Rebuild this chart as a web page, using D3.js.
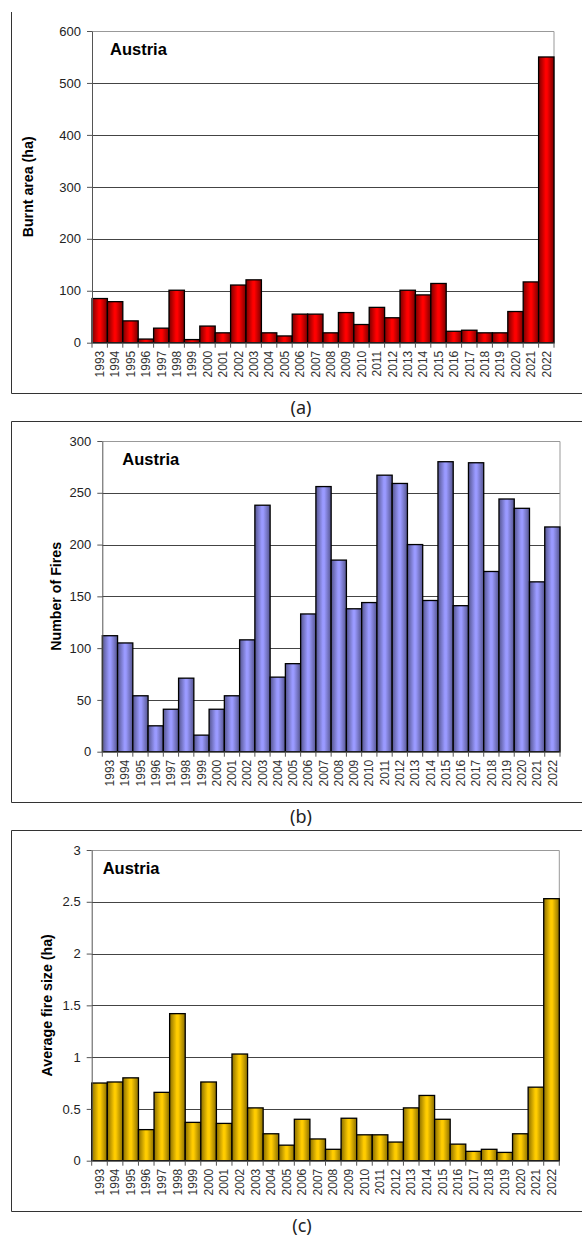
<!DOCTYPE html>
<html>
<head>
<meta charset="utf-8">
<script src="https://cdn.jsdelivr.net/npm/d3@7/dist/d3.min.js"></script>
<style>
  html, body { margin: 0; padding: 0; background: #fff; }
  svg { display: block; }
</style>
</head>
<body>
<svg id="chart" width="582" height="1236"></svg>
<script>
// ---- Data ----
const years = [1993,1994,1995,1996,1997,1998,1999,2000,2001,2002,2003,2004,2005,2006,2007,
               2008,2009,2010,2011,2012,2013,2014,2015,2016,2017,2018,2019,2020,2021,2022];
const burntArea = [85,79,42,7,28,101,6,32,19,111,121,19,13,55,55,
                   19,58,35,68,48,101,92,114,22,24,19,19,60,117,550];
const numberOfFires = [112,105,54,25,41,71,16,41,54,108,238,72,85,133,256,
                       185,138,144,267,259,200,146,280,141,279,174,244,235,164,217];
const avgFireSize = [0.75,0.76,0.80,0.30,0.66,1.42,0.37,0.76,0.36,1.03,0.51,0.26,0.15,0.40,0.21,
                     0.11,0.41,0.25,0.25,0.18,0.51,0.63,0.40,0.16,0.09,0.11,0.08,0.26,0.71,2.53];
const ticksA = [0,100,200,300,400,500,600];
const ticksB = [0,50,100,150,200,250,300];
const ticksC = [0,0.5,1,1.5,2,2.5,3];
const countryLabel = "Austria";
const captions = ["(a)", "(b)", "(c)"];
const titles = ["Burnt area (ha)", "Number of Fires", "Average fire size (ha)"];

const svg = d3.select("#chart");
const defs = svg.append("defs");

function gradient(id, edge, mid) {
  const g = defs.append("linearGradient").attr("id", id)
    .attr("x1", "0").attr("x2", "1").attr("y1", "0").attr("y2", "0");
  g.append("stop").attr("offset", "0%").attr("stop-color", edge);
  g.append("stop").attr("offset", "45%").attr("stop-color", mid);
  g.append("stop").attr("offset", "55%").attr("stop-color", mid);
  g.append("stop").attr("offset", "100%").attr("stop-color", edge);
}
gradient("gRed", "#7a0000", "#ff0000");
gradient("gBlue", "#55558f", "#9a9aff");
gradient("gGold", "#8a6e00", "#ffcc00");

// Frames
const frameColor = "#333";
svg.append("line").attr("x1", 11.5).attr("x2", 11.5).attr("y1", 12).attr("y2", 393.5)
  .attr("stroke", frameColor);
svg.append("line").attr("x1", 11.5).attr("x2", 582).attr("y1", 393.5).attr("y2", 393.5)
  .attr("stroke", frameColor);
[[421.5, 802.5], [830.5, 1211.5]].forEach(([t, b]) => {
  svg.append("path").attr("d", `M582,${t}H11.5V${b}H582`)
    .attr("fill", "none").attr("stroke", frameColor);
});

// captions
[[301, 414], [301, 823], [302, 1232]].forEach(([cx, cy], i) => {
  svg.append("text").attr("x", cx).attr("y", cy).attr("text-anchor", "middle")
    .attr("font-family", "'Noto Sans', 'Open Sans', sans-serif").attr("font-size", 18)
    .attr("fill", "#222").text(captions[i]);
});

function panel(cfg) {
  const { left, right, top, bottom, values, ticks, max, fill, title, titleX, austriaDx, fmt } = cfg;
  const g = svg.append("g");
  const x = d3.scaleBand().domain(years).range([left, right]).padding(0);
  const y = d3.scaleLinear().domain([0, max]).range([bottom, top]);

  g.append("g").selectAll("line").data(ticks.filter(t => t > 0 && t < max)).join("line")
    .attr("x1", left).attr("x2", right)
    .attr("y1", d => Math.round(y(d)) + 0.5).attr("y2", d => Math.round(y(d)) + 0.5)
    .attr("stroke", "#444").attr("stroke-width", 1);
  g.append("path")
    .attr("d", `M${left},${Math.round(y(max)) + 0.5}H${right}V${bottom}`)
    .attr("fill", "none").attr("stroke", "#999").attr("stroke-width", 1);

  g.append("g").selectAll("rect").data(years).join("rect")
    .attr("x", d => x(d))
    .attr("width", x.bandwidth())
    .attr("y", (d, i) => y(values[i]))
    .attr("height", (d, i) => y(0) - y(values[i]))
    .attr("fill", fill)
    .attr("stroke", "#000").attr("stroke-width", 1.3);

  const ya = d3.axisLeft(y).tickValues(ticks).tickSize(5).tickSizeOuter(0).tickPadding(6)
    .tickFormat(fmt);
  const yg = g.append("g").attr("transform", `translate(${left},0)`).call(ya);
  yg.select(".domain").attr("stroke", "#555");
  yg.selectAll(".tick line").attr("stroke", "#555");
  yg.selectAll("text").attr("font-family", "'Liberation Sans', Arial, sans-serif")
    .attr("font-size", 13).attr("fill", "#222");

  const xa = d3.axisBottom(x).tickSize(0).tickSizeOuter(0);
  const xg = g.append("g").attr("transform", `translate(0,${bottom})`).call(xa);
  xg.select(".domain").attr("stroke", "#555");
  xg.selectAll("text")
    .attr("font-family", "'Liberation Sans', Arial, sans-serif")
    .attr("font-size", 12).attr("fill", "#333")
    .attr("transform", "rotate(-90)")
    .attr("text-anchor", "end")
    .attr("x", -8).attr("y", 0).attr("dy", "0.35em");
  const bounds = years.map(d => x(d)).concat([x.range()[1]]);
  xg.append("g").selectAll("line").data(bounds).join("line")
    .attr("x1", d => d).attr("x2", d => d).attr("y1", 0).attr("y2", 5)
    .attr("stroke", "#555");

  g.append("text").attr("x", left + austriaDx).attr("y", top + 24)
    .attr("font-family", "'Liberation Sans', Arial, sans-serif")
    .attr("font-weight", "bold").attr("font-size", 16.5).attr("fill", "#000")
    .text(countryLabel);

  g.append("text")
    .attr("transform", `translate(${titleX},${(top + bottom) / 2}) rotate(-90)`)
    .attr("text-anchor", "middle").attr("dy", "0.35em")
    .attr("font-family", "'Liberation Sans', Arial, sans-serif")
    .attr("font-weight", "bold").attr("font-size", 14.2).attr("fill", "#000")
    .text(title);
}

panel({ left: 92, right: 554, top: 31, bottom: 342.7, values: burntArea, ticks: ticksA, max: 600,
        fill: "url(#gRed)", title: titles[0], titleX: 28, austriaDx: 18, fmt: d => String(d) });
panel({ left: 102.3, right: 560, top: 441, bottom: 751.7, values: numberOfFires, ticks: ticksB, max: 300,
        fill: "url(#gBlue)", title: titles[1], titleX: 56, austriaDx: 20, fmt: d => String(d) });
panel({ left: 91.7, right: 559.3, top: 850, bottom: 1160.7, values: avgFireSize, ticks: ticksC, max: 3,
        fill: "url(#gGold)", title: titles[2], titleX: 47, austriaDx: 11, fmt: d => String(d) });
</script>
</body>
</html>
